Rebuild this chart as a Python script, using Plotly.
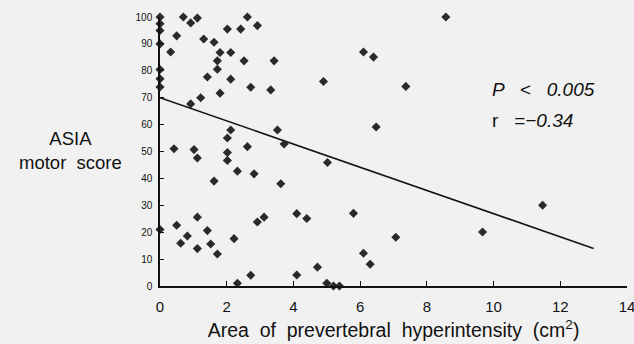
import plotly.graph_objects as go

# Area of prevertebral hyperintensity (cm^2)
area = [0, 0, 0, 0, 0, 0, 0, 0,
        0.32, 0.5, 0.70, 0.92, 1.12, 1.31, 1.62, 1.80, 1.72, 1.72, 1.42, 1.80, 1.22, 0.92,
        2.02, 2.12, 2.12, 2.42, 2.62, 2.92, 2.52, 2.72, 3.32, 3.42,
        2.12, 2.02, 3.52, 3.72, 2.62, 0.42, 1.02, 1.12, 2.02, 2.02, 2.32, 2.82, 1.62, 3.62,
        4.10, 3.12, 2.92, 1.12, 0.50, 1.42, 0.82, 0.62, 1.52, 1.12, 1.72, 2.22,
        2.72, 2.32, 4.10,
        8.57, 6.10, 6.40, 4.90, 7.37, 6.48, 5.02, 4.40, 5.80, 7.07, 6.10, 6.30, 4.72,
        5.0, 5.2, 5.38, 9.67, 11.47]
# ASIA motor score
score = [100, 97.5, 95, 90, 80.5, 77, 74, 21,
         87, 93, 100, 97.8, 99.6, 91.8, 90.6, 86.8, 83.7, 80.6, 77.7, 71.7, 70, 67.7,
         95.5, 86.8, 76.9, 95.5, 100, 96.8, 83.7, 73.9, 72.9, 83.7,
         58, 55, 58, 52.8, 51.8, 51, 50.7, 47.6, 49.6, 46.7, 42.7, 41.7, 39, 38,
         26.9, 25.6, 23.8, 25.6, 22.6, 20.6, 18.6, 15.9, 15.6, 13.9, 11.9, 17.6,
         4, 1, 4.1,
         100, 87, 85.1, 76, 74.2, 59.1, 45.9, 25.1, 27, 18.1, 12.2, 8.1, 7,
         1, 0, 0, 20.1, 30]

# Regression line
intercept = 70
slope = -4.31
fit_x = [0, 13]
fit_y = [intercept + slope * v for v in fit_x]

x_ticks = [0, 2, 4, 6, 8, 10, 12, 14]
y_ticks = [0, 10, 20, 30, 40, 50, 60, 70, 80, 90, 100]

FONT = "Arial, Liberation Sans, sans-serif"
BG = "#f1f1f1"

W, H = 634, 344
L, R, T, B = 160, 7, 17, 58

fig = go.Figure()
fig.add_trace(go.Scatter(
    x=fit_x, y=fit_y, mode="lines",
    line=dict(color="#111111", width=1.5),
    showlegend=False, hoverinfo="skip"))
fig.add_trace(go.Scatter(
    x=area, y=score, mode="markers",
    marker=dict(symbol="diamond", size=7, color="#2a2a2a"),
    cliponaxis=False, showlegend=False))

plot_w = W - L - R
plot_h = H - T - B

fig.update_layout(
    width=W, height=H,
    margin=dict(l=L, r=R, t=T, b=B, autoexpand=False),
    paper_bgcolor=BG, plot_bgcolor=BG,
    font=dict(family=FONT, color="#111111"),
    xaxis=dict(range=[0, 14], tickvals=x_ticks, ticks="inside", ticklen=5,
               tickcolor="#111111", showline=True, linecolor="#111111", linewidth=1.5,
               showgrid=False, zeroline=False, tickfont=dict(size=15),
               ticklabelstandoff=6, automargin=False, ticklabeloverflow="allow",
               title=dict(text="Area  of  prevertebral  hyperintensity  (cm<sup>2</sup>)",
                          font=dict(size=19.5), standoff=10)),
    yaxis=dict(range=[0, 100], tickvals=y_ticks, ticks="inside", ticklen=4,
               tickcolor="#111111", showline=True, linecolor="#111111", linewidth=1.5,
               showgrid=False, zeroline=False, tickfont=dict(size=10),
               ticklabelstandoff=4, automargin=False),
    annotations=[
        dict(text="ASIA<br>motor  score", x=(70 - L) / plot_w, y=(H - B - 150) / plot_h,
             xref="paper", yref="paper", xanchor="center", yanchor="middle",
             showarrow=False, font=dict(size=18.5)),
        dict(text="<i>P   &lt;   0.005</i>", x=9.9, y=72.9, xref="x", yref="y",
             xanchor="left", yanchor="middle", showarrow=False, font=dict(size=19)),
        dict(text="r   =<i>−0.34</i>", x=9.9, y=61.4, xref="x", yref="y",
             xanchor="left", yanchor="middle", showarrow=False, font=dict(size=19)),
    ],
)

fig.write_html("out.html", config={"displayModeBar": False},
               post_script="document.body.style.margin='0';")
